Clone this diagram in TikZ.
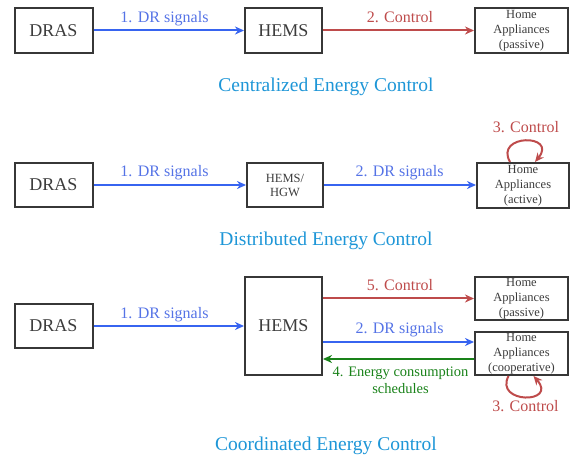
\documentclass[tikz,border=0pt]{standalone}
\usepackage{fontspec}
\setmainfont{Liberation Serif}
\usetikzlibrary{arrows.meta}
\definecolor{boxc}{RGB}{55,55,55}
\definecolor{txtc}{RGB}{60,60,60}
\definecolor{bluea}{RGB}{55,100,240}
\definecolor{bluet}{RGB}{85,115,230}
\definecolor{reda}{RGB}{190,75,75}
\definecolor{greena}{RGB}{25,130,25}
\definecolor{ttlc}{RGB}{30,150,215}
\tikzset{
  box/.style={draw=boxc, line width=2pt, inner sep=0pt, text=txtc, font=\fontsize{18}{20}\selectfont},
  hbox/.style={box, align=center, font=\fontsize{12.5}{15}\selectfont},
  lbl/.style={anchor=base, font=\fontsize{16}{18}\selectfont},
  ttl/.style={anchor=base, text=ttlc, font=\fontsize{19.5}{22}\selectfont},
  arr/.style={line width=2pt, -{Stealth[length=9pt,width=8pt]}},
}
\begin{document}
\begin{tikzpicture}[x=1pt,y=-1pt]
\useasboundingbox (0,0) rectangle (571,457);
% Row 1
\node[box, minimum width=78pt, minimum height=44.5pt] (r1d) at (53.5,30.5) {DRAS};
\node[box, minimum width=77pt, minimum height=45pt] (r1h) at (283.5,30.5) {HEMS};
\node[hbox, minimum width=93pt, minimum height=45pt] (r1a) at (521.5,30.5) {Home\\Appliances\\(passive)};
\draw[arr, bluea] (r1d) -- (r1h);
\draw[arr, reda] (r1h) -- (r1a);
\node[lbl, text=bluet] (l11) at (164.5,23) {1. DR signals};
\node[lbl, text=reda] (l12) at (400,23) {2. Control};
\node[ttl] (t1) at (326,92) {Centralized Energy Control};
% Row 2
\node[box, minimum width=78pt, minimum height=44pt] (r2d) at (53.5,185) {DRAS};
\node[hbox, minimum width=76pt, minimum height=44pt, font=\fontsize{12.5}{14}\selectfont] (r2h) at (285,185) {HEMS/\\HGW};
\node[hbox, minimum width=92pt, minimum height=45pt] (r2a) at (523,185.5) {Home\\Appliances\\(active)};
\draw[arr, bluea] (r2d) -- (r2d -| r2h.west);
\draw[arr, bluea] (r2d -| r2h.east) -- (r2d -| r2a.west);
\node[lbl, text=bluet] (l21) at (164.5,177) {1. DR signals};
\node[lbl, text=bluet] (l22) at (399.5,177) {2. DR signals};
\draw[arr, reda] ([xshift=-13pt]r2a.north) .. controls (494,133.7) and (558,133.7) .. ([xshift=12pt]r2a.north);
\node[lbl, text=reda] (l23) at (526,133) {3. Control};
\node[ttl] (t2) at (326,246) {Distributed Energy Control};
% Row 3
\node[box, minimum width=78pt, minimum height=44pt] (r3d) at (53.5,326) {DRAS};
\node[box, minimum width=77pt, minimum height=98pt] (r3h) at (283.5,326) {HEMS};
\node[hbox, minimum width=93pt, minimum height=43pt] (r3p) at (521.5,298.5) {Home\\Appliances\\(passive)};
\node[hbox, minimum width=93pt, minimum height=43pt] (r3c) at (521.5,353.5) {Home\\Appliances\\(cooperative)};
\draw[arr, bluea] (r3d) -- (r3d -| r3h.west);
\draw[arr, reda] (r3p -| r3h.east) -- (r3p.west);
\draw[arr, bluea] ([yshift=11.5pt]r3c.west -| r3h.east) -- ([yshift=11.5pt]r3c.west);
\draw[arr, greena] ([yshift=-5.5pt]r3c.west) -- ([yshift=-5.5pt]r3c.west -| r3h.east);
\node[lbl, text=bluet] (l31) at (164.5,319) {1. DR signals};
\node[lbl, text=reda] (l35) at (400,291) {5. Control};
\node[lbl, text=bluet] (l32) at (399.5,334) {2. DR signals};
\node[anchor=base, text=greena, align=center, font=\fontsize{14.5}{17}\selectfont] (l34) at (400.5,393) {4. Energy consumption\\schedules};
\draw[arr, reda] ([xshift=-13pt]r3c.south) .. controls (494,404) and (558,404) .. ([xshift=12pt]r3c.south);
\node[lbl, text=reda] (l33) at (525.5,411) {3. Control};
\node[ttl] (t3) at (326,450) {Coordinated Energy Control};
\end{tikzpicture}
\end{document}
